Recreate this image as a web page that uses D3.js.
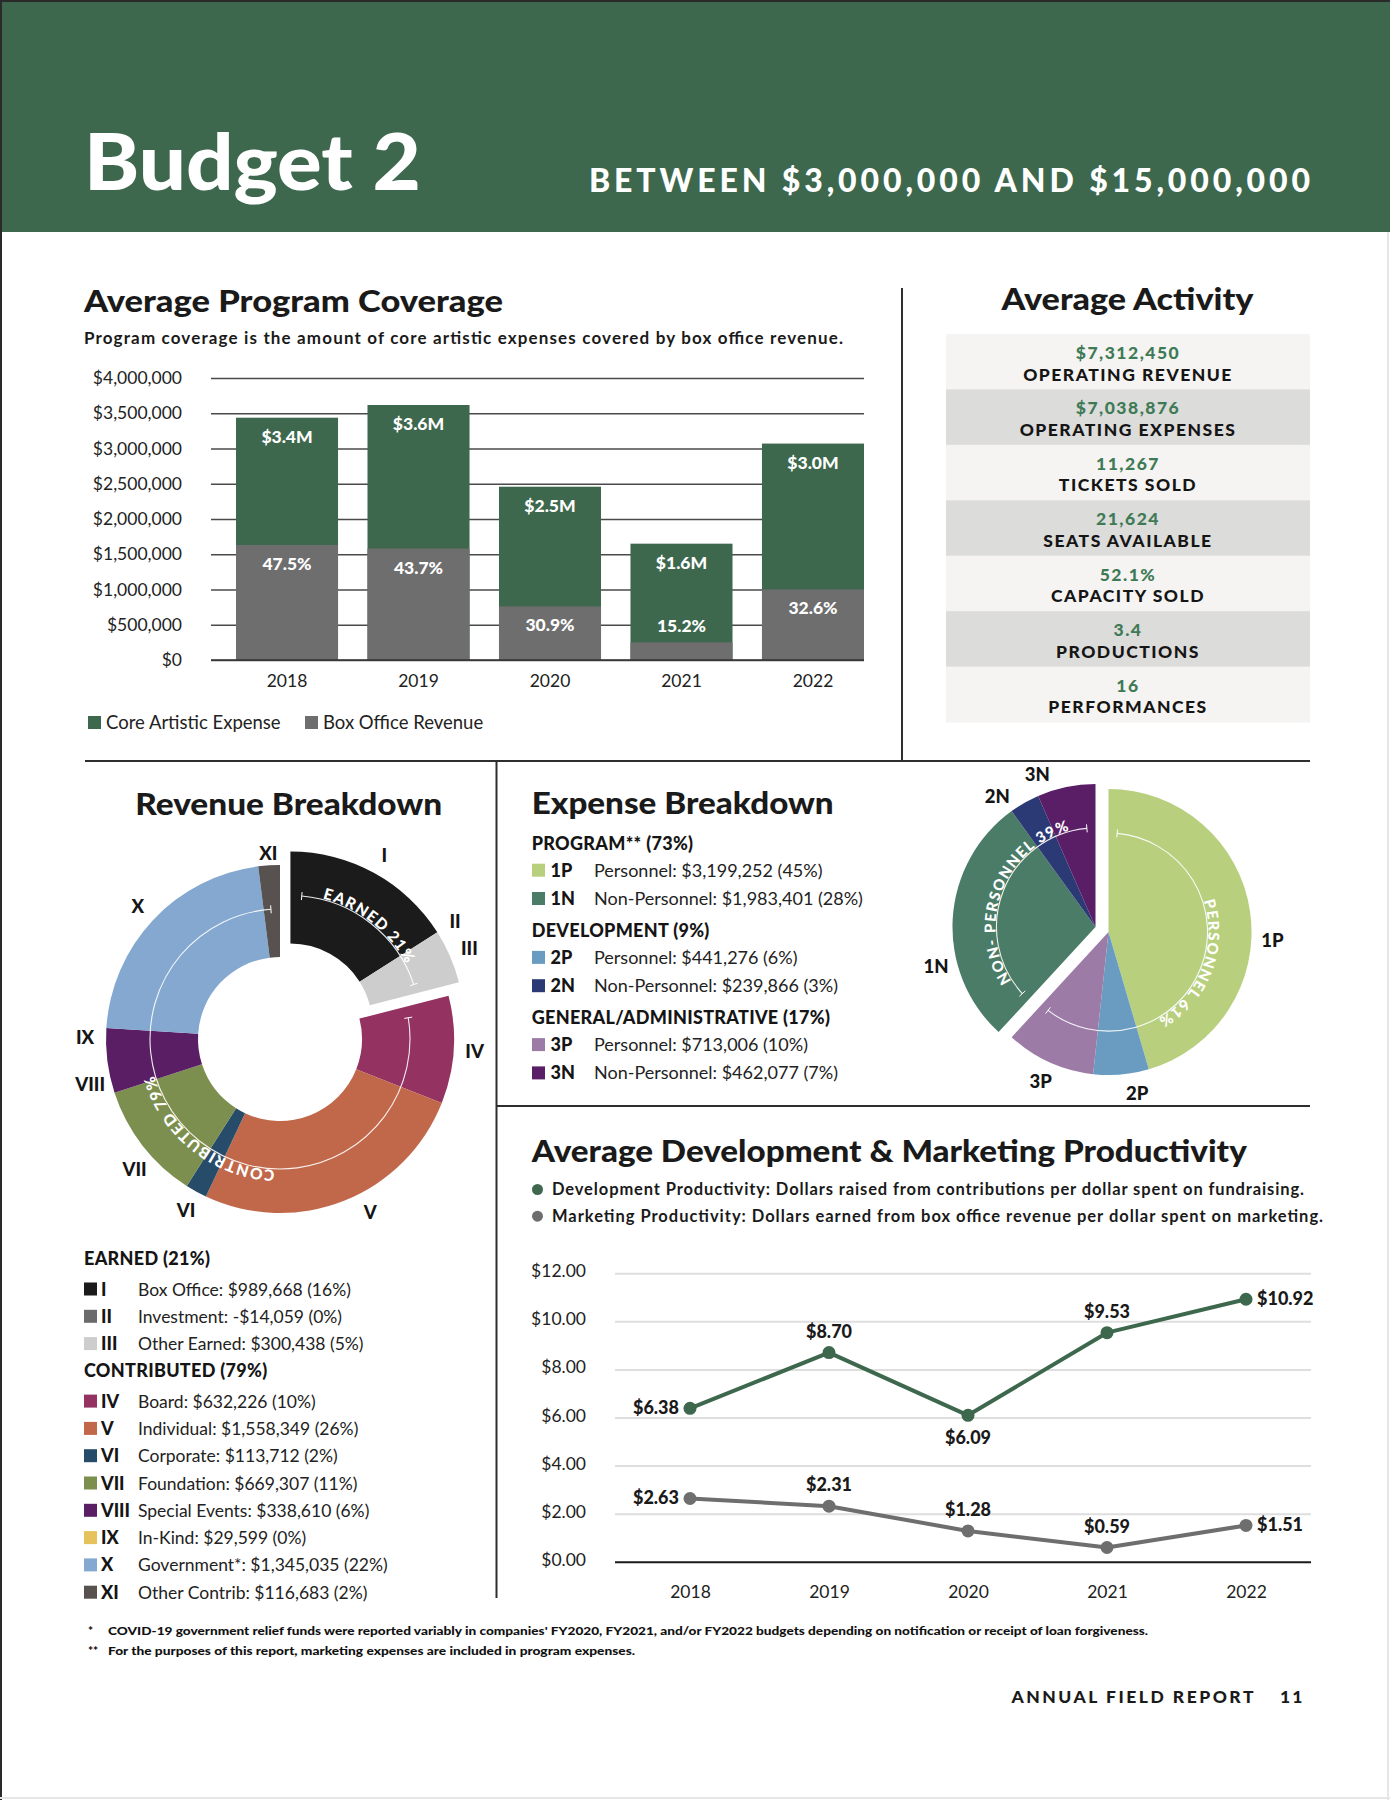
<!DOCTYPE html>
<html>
<head>
<meta charset="utf-8">
<script src="https://cdn.jsdelivr.net/npm/d3@7"></script>
<style>
  body { margin: 0; background: #fff; }
  svg text { font-family: Lato, "Open Sans", sans-serif; }
</style>
</head>
<body>
<svg id="page" width="1390" height="1800"></svg>
<script>
// ---- data ----
const years = ["2018", "2019", "2020", "2021", "2022"];
const coreExpense = [3437000, 3617000, 2458000, 1650000, 3070000];
const boxOffice = [1632000, 1581000, 760000, 251000, 1001000];
const expenseLabels = ["$3.4M", "$3.6M", "$2.5M", "$1.6M", "$3.0M"];
const coverageLabels = ["47.5%", "43.7%", "30.9%", "15.2%", "32.6%"];
const coverageTicks = [0, 500000, 1000000, 1500000, 2000000, 2500000, 3000000, 3500000, 4000000];

const activityValues = ["$7,312,450", "$7,038,876", "11,267", "21,624", "52.1%", "3.4", "16"];
const activityLabels = ["OPERATING REVENUE", "OPERATING EXPENSES", "TICKETS SOLD", "SEATS AVAILABLE",
  "CAPACITY SOLD", "PRODUCTIONS", "PERFORMANCES"];

const revenueCodes = ["I", "II", "III", "IV", "V", "VI", "VII", "VIII", "IX", "X", "XI"];
const revenueNames = ["Box Office", "Investment", "Other Earned", "Board", "Individual", "Corporate",
  "Foundation", "Special Events", "In-Kind", "Government*", "Other Contrib"];
const revenueAmounts = ["$989,668", "-$14,059", "$300,438", "$632,226", "$1,558,349", "$113,712",
  "$669,307", "$338,610", "$29,599", "$1,345,035", "$116,683"];
const revenuePct = [16, 0, 5, 10, 26, 2, 11, 6, 0, 22, 2];
const revenueGroupOf = [0, 0, 0, 1, 1, 1, 1, 1, 1, 1, 1];
const revenueGroups = ["EARNED", "CONTRIBUTED"];
const revenueGroupPct = [21, 79];
const revenueColors = ["#1b1b1b", "#6b6b6b", "#cdcdcd", "#943262", "#c1684a", "#274c6a",
  "#7d8f4f", "#5a1e64", "#e6c25c", "#84a8d0", "#57524f"];

const expenseCodes = ["1P", "1N", "2P", "2N", "3P", "3N"];
const expenseKinds = ["Personnel", "Non-Personnel", "Personnel", "Non-Personnel", "Personnel", "Non-Personnel"];
const expenseValues = [3199252, 1983401, 441276, 239866, 713006, 462077];
const expensePct = [45, 28, 6, 3, 10, 7];
const expenseCategories = ["PROGRAM** (73%)", "DEVELOPMENT (9%)", "GENERAL/ADMINISTRATIVE (17%)"];
const expenseGroups = ["PERSONNEL", "NON- PERSONNEL"];
const expenseGroupPct = [61, 39];
const expenseColors = ["#b8cf7e", "#4a7c67", "#6a9cc2", "#2b3a74", "#9d7ba7", "#5a1e67"];

const devProductivity = [6.38, 8.70, 6.09, 9.53, 10.92];
const mktProductivity = [2.63, 2.31, 1.28, 0.59, 1.51];
const productivityTicks = [0, 2, 4, 6, 8, 10, 12];

const GREEN = "#3e684d";
const svg = d3.select("#page");
const fmt = d3.format(",");

// ---- page frame + header ----
svg.append("rect").attr("x", 0).attr("y", 0).attr("width", 1390).attr("height", 1800).attr("fill", "#fff");
svg.append("rect").attr("x", 0).attr("y", 0).attr("width", 1390).attr("height", 232).attr("fill", GREEN);
svg.append("rect").attr("x", 0).attr("y", 0).attr("width", 1390).attr("height", 2).attr("fill", "#2a2a2a");
svg.append("rect").attr("x", 0).attr("y", 0).attr("width", 2).attr("height", 1800).attr("fill", "#2a2a2a");
svg.append("rect").attr("x", 1387).attr("y", 232).attr("width", 2).attr("height", 1568).attr("fill", "#e6e6e6");
svg.append("rect").attr("x", 0).attr("y", 1797).attr("width", 1390).attr("height", 2).attr("fill", "#e6e6e6");

svg.append("text").attr("x", 84).attr("y", 190).attr("fill", "#fff")
  .attr("font-size", 78).attr("font-weight", 900).attr("textLength", 337).attr("lengthAdjust", "spacingAndGlyphs")
  .text("Budget 2");
svg.append("text").attr("x", 589).attr("y", 192).attr("fill", "#fff")
  .attr("font-size", 32).attr("font-weight", 900).attr("letter-spacing", 2).attr("textLength", 723)
  .text("BETWEEN $3,000,000 AND $15,000,000");

function title(x, y, txt, len, anchor) {
  return svg.append("text").attr("x", x).attr("y", y).attr("fill", "#1a1a1a")
    .attr("font-size", 31).attr("font-weight", 900).attr("text-anchor", anchor || "start")
    .attr("textLength", len).attr("lengthAdjust", "spacingAndGlyphs").text(txt);
}

// ---- dividers ----
const lines = [[902, 288, 902, 760], [85, 761, 1310, 761], [496.5, 761, 496.5, 1598], [496, 1106, 1310, 1106]];
lines.forEach(l => svg.append("line").attr("x1", l[0]).attr("y1", l[1]).attr("x2", l[2]).attr("y2", l[3])
  .attr("stroke", "#2e2e2e").attr("stroke-width", 2));

// ---- Average Program Coverage ----
title(84, 312, "Average Program Coverage", 419);
svg.append("text").attr("x", 84).attr("y", 344).attr("font-size", 17).attr("font-weight", 700)
  .attr("fill", "#1a1a1a").attr("textLength", 759)
  .text("Program coverage is the amount of core artistic expenses covered by box office revenue.");

const barY = d3.scaleLinear().domain([0, 4000000]).range([660, 378]);
const barX = d3.scaleBand().domain(years).range([236, 864]).paddingInner(0.224).paddingOuter(0);

const yAxisBar = svg.append("g").attr("transform", "translate(211,0)")
  .call(d3.axisLeft(barY).tickValues(coverageTicks).tickFormat(d => "$" + fmt(d))
    .tickSize(-(864 - 211)).tickPadding(29));
yAxisBar.select(".domain").remove();
yAxisBar.selectAll(".tick line").attr("stroke", "#4a4a4a").attr("stroke-width", 1.6);
yAxisBar.selectAll(".tick text").attr("font-size", 17.5).attr("fill", "#222").style("font-family", "Lato");

svg.append("g").selectAll("rect").data(years).join("rect")
  .attr("x", d => barX(d)).attr("width", barX.bandwidth())
  .attr("y", (d, i) => barY(coreExpense[i])).attr("height", (d, i) => barY(0) - barY(coreExpense[i]))
  .attr("fill", GREEN);
svg.append("g").selectAll("rect").data(years).join("rect")
  .attr("x", d => barX(d)).attr("width", barX.bandwidth())
  .attr("y", (d, i) => barY(boxOffice[i])).attr("height", (d, i) => barY(0) - barY(boxOffice[i]))
  .attr("fill", "#6e6e6e");

svg.append("g").selectAll("text").data(years).join("text")
  .attr("x", d => barX(d) + barX.bandwidth() / 2).attr("y", (d, i) => barY(coreExpense[i]) + 25)
  .attr("text-anchor", "middle").attr("fill", "#fff").attr("font-size", 17.5).attr("font-weight", 900)
  .text((d, i) => expenseLabels[i]);
svg.append("g").selectAll("text").data(years).join("text")
  .attr("x", d => barX(d) + barX.bandwidth() / 2)
  .attr("y", (d, i) => Math.min(barY(boxOffice[i]) + 25, barY(0) - 28))
  .attr("text-anchor", "middle").attr("fill", "#fff").attr("font-size", 17.5).attr("font-weight", 900)
  .text((d, i) => coverageLabels[i]);

const xAxisBar = svg.append("g").attr("transform", "translate(0,660)")
  .call(d3.axisBottom(barX).tickSize(0).tickPadding(15));
xAxisBar.select(".domain").attr("stroke", "#333").attr("stroke-width", 1.6)
  .attr("d", "M211,0H864");
xAxisBar.selectAll(".tick text").attr("font-size", 17.5).attr("fill", "#222").style("font-family", "Lato");

const barLegend = [["Core Artistic Expense", GREEN, 88], ["Box Office Revenue", "#6e6e6e", 305]];
barLegend.forEach(l => {
  svg.append("rect").attr("x", l[2]).attr("y", 716).attr("width", 13).attr("height", 13).attr("fill", l[1]);
  svg.append("text").attr("x", l[2] + 18).attr("y", 729).attr("font-size", 18.5).attr("fill", "#222").text(l[0]);
});

// ---- Average Activity ----
title(1127.5, 310, "Average Activity", 252, "middle");
const rowH = (722 - 334) / activityValues.length;
const act = svg.append("g").selectAll("g").data(activityValues).join("g")
  .attr("transform", (d, i) => `translate(946,${334 + i * rowH})`);
act.append("rect").attr("width", 364).attr("height", rowH + 0.5)
  .attr("fill", (d, i) => i % 2 ? "#dcdcdb" : "#f5f4f2");
act.append("text").attr("x", 182).attr("y", 25).attr("text-anchor", "middle")
  .attr("font-size", 17.5).attr("font-weight", 900).attr("letter-spacing", 1.5).attr("fill", "#3f7a56")
  .text(d => d);
act.append("text").attr("x", 182).attr("y", 46.5).attr("text-anchor", "middle")
  .attr("font-size", 17.5).attr("font-weight", 900).attr("letter-spacing", 1.5).attr("fill", "#151515")
  .text((d, i) => activityLabels[i]);

// ---- helpers for ring labels ----
const rad = deg => deg * Math.PI / 180;
function ringPath(r, a0, a1) {
  const p0 = [r * Math.sin(a0), -r * Math.cos(a0)], p1 = [r * Math.sin(a1), -r * Math.cos(a1)];
  return `M${p0}A${r},${r} 0 ${(a1 - a0) > Math.PI ? 1 : 0} 1 ${p1}`;
}
function drawRing(g, id, r, a0, a1, label, fs) {
  g.append("path").attr("id", id).attr("d", ringPath(r, a0, a1))
    .attr("fill", "none").attr("stroke", "#fff").attr("stroke-width", 1.1).attr("opacity", 0.9);
  [a0, a1].forEach(a => g.append("line")
    .attr("x1", (r - 4) * Math.sin(a)).attr("y1", -(r - 4) * Math.cos(a))
    .attr("x2", (r + 4) * Math.sin(a)).attr("y2", -(r + 4) * Math.cos(a))
    .attr("stroke", "#fff").attr("stroke-width", 1));
  g.append("text").attr("dy", -1).attr("font-size", fs).attr("font-weight", 900)
    .attr("letter-spacing", 1.2).attr("fill", "#fff")
    .append("textPath").attr("href", "#" + id).attr("startOffset", "50%").attr("text-anchor", "middle")
    .text(label);
}

// ---- Revenue Breakdown ----
title(288.7, 815, "Revenue Breakdown", 307, "middle");
const revC = [280, 1039];
const revPie = d3.pie().sort(null).value(d => d)(revenuePct);
const revArc = d3.arc().innerRadius(82).outerRadius(174);
const revLabelShift = { V: -6, VII: -4, VIII: -6, IX: -3 };

revenueGroups.forEach((gname, gi) => {
  const arcs = revPie.filter((a, i) => revenueGroupOf[i] === gi);
  const a0 = arcs[0].startAngle, a1 = arcs[arcs.length - 1].endAngle, mid = (a0 + a1) / 2;
  const off = gi === 0 ? 17 : 0;
  const g = svg.append("g")
    .attr("transform", `translate(${revC[0] + off * Math.sin(mid)},${revC[1] - off * Math.cos(mid)})`);
  g.selectAll("path.slice").data(arcs).join("path").attr("class", "slice")
    .attr("d", revArc).attr("fill", d => revenueColors[d.index]);
  drawRing(g, "revring" + gi, 130, a0 + rad(5), a1 - rad(4), gname + " " + revenueGroupPct[gi] + "%", 15.5);
  g.selectAll("text.lbl").data(arcs).join("text").attr("class", "lbl")
    .each(function (d) {
      const code = revenueCodes[d.index];
      const a = (d.startAngle + d.endAngle) / 2 + rad(revLabelShift[code] || 0);
      const r = code === "XI" ? 186 : 195;
      d3.select(this).attr("x", r * Math.sin(a)).attr("y", -r * Math.cos(a));
    })
    .attr("text-anchor", "middle").attr("dominant-baseline", "central")
    .attr("font-size", 18.5).attr("font-weight", 900).attr("fill", "#151515")
    .text(d => revenueCodes[d.index]);
});

// revenue legend
let ly = 1265;
revenueGroups.forEach((gname, gi) => {
  svg.append("text").attr("x", 84).attr("y", ly).attr("font-size", 18).attr("font-weight", 900)
    .attr("letter-spacing", 0.3).attr("fill", "#151515").text(`${gname} (${revenueGroupPct[gi]}%)`);
  ly += 30.5;
  revenueCodes.forEach((c, i) => {
    if (revenueGroupOf[i] !== gi) return;
    svg.append("rect").attr("x", 84).attr("y", ly - 13).attr("width", 13).attr("height", 13)
      .attr("fill", revenueColors[i]);
    svg.append("text").attr("x", 101).attr("y", ly).attr("font-size", 18).attr("font-weight", 900)
      .attr("fill", "#151515").text(c);
    svg.append("text").attr("x", 138).attr("y", ly).attr("font-size", 17.5).attr("fill", "#222")
      .text(`${revenueNames[i]}: ${revenueAmounts[i]} (${revenuePct[i]}%)`);
    ly += 27.3;
  });
  ly -= 0.3;
});

// ---- Expense Breakdown ----
title(531.7, 814, "Expense Breakdown", 302);
expenseCategories.forEach((cat, ci) => {
  const hy = 850 + ci * 87.2;
  svg.append("text").attr("x", 531.7).attr("y", hy).attr("font-size", 18).attr("font-weight", 900)
    .attr("letter-spacing", 0.3).attr("fill", "#151515").text(cat);
  [0, 1].forEach(k => {
    const i = ci * 2 + k, yy = hy + 26.7 + k * 28.3;
    svg.append("rect").attr("x", 532).attr("y", yy - 13).attr("width", 13).attr("height", 13)
      .attr("fill", expenseColors[i]);
    svg.append("text").attr("x", 550.5).attr("y", yy).attr("font-size", 18).attr("font-weight", 900)
      .attr("fill", "#151515").text(expenseCodes[i]);
    svg.append("text").attr("x", 594).attr("y", yy).attr("font-size", 18).attr("fill", "#222")
      .text(`${expenseKinds[i]}: $${fmt(expenseValues[i])} (${expensePct[i]}%)`);
  });
});

// pie: personnel slices first, then non-personnel
const expOrder = [0, 2, 4, 1, 3, 5];
const expC = [1102, 929.5];
const expPie = d3.pie().sort(null).value(i => expenseValues[i])(expOrder);
const expArc = d3.arc().innerRadius(0).outerRadius(143);
const expLabelShift = { "1P": 11, "2P": -5, "1N": -17, "2N": -7, "3N": -9 };
expenseGroups.forEach((gname, gi) => {
  const arcs = expPie.slice(gi * 3, gi * 3 + 3);
  const a0 = arcs[0].startAngle, a1 = arcs[2].endAngle, mid = (a0 + a1) / 2;
  const off = 7;
  const g = svg.append("g")
    .attr("transform", `translate(${expC[0] + off * Math.sin(mid)},${expC[1] - off * Math.cos(mid)})`);
  g.selectAll("path").data(arcs).join("path").attr("d", expArc)
    .attr("fill", d => expenseColors[d.data]);
  drawRing(g, "expring" + gi, 99, a0 + rad(5), a1 - rad(5), gname + " " + expenseGroupPct[gi] + "%", 15);
  g.selectAll("text.lbl").data(arcs).join("text").attr("class", "lbl")
    .each(function (d) {
      const code = expenseCodes[d.data];
      const a = (d.startAngle + d.endAngle) / 2 + rad(expLabelShift[code] || 0);
      d3.select(this).attr("x", 164 * Math.sin(a)).attr("y", -164 * Math.cos(a));
    })
    .attr("text-anchor", "middle").attr("dominant-baseline", "central")
    .attr("font-size", 18.5).attr("font-weight", 900).attr("fill", "#151515")
    .text(d => expenseCodes[d.data]);
});

// ---- Average Development & Marketing Productivity ----
title(531.8, 1161.7, "Average Development & Marketing Productivity", 715);
const prodLegend = [
  [GREEN, "Development Productivity: Dollars raised from contributions per dollar spent on fundraising.", 752],
  ["#6e6e6e", "Marketing Productivity: Dollars earned from box office revenue per dollar spent on marketing.", 771]];
prodLegend.forEach((l, i) => {
  const yy = 1195 + i * 26.7;
  svg.append("circle").attr("cx", 537.5).attr("cy", yy - 5.5).attr("r", 5.5).attr("fill", l[0]);
  svg.append("text").attr("x", 552).attr("y", yy).attr("font-size", 16.5).attr("font-weight", 700)
    .attr("fill", "#1a1a1a").attr("textLength", l[2]).text(l[1]);
});

const pY = d3.scaleLinear().domain([0, 12]).range([1561.7, 1273.3]);
const pX = d3.scalePoint().domain(years).range([690, 1246]);
const pyAxis = svg.append("g").attr("transform", "translate(615,0)")
  .call(d3.axisLeft(pY).tickValues(productivityTicks).tickFormat(d3.format("$.2f"))
    .tickSize(-(1311 - 615)).tickPadding(29));
pyAxis.select(".domain").remove();
pyAxis.selectAll(".tick line").attr("stroke", "#dedede").attr("stroke-width", 2);
pyAxis.selectAll(".tick text").attr("font-size", 17.5).attr("fill", "#222").attr("dy", "0.2em")
  .style("font-family", "Lato");
pyAxis.selectAll(".tick").filter(d => d === 0).select("line").attr("stroke", "#1a1a1a");

const pxAxis = svg.append("g").attr("transform", "translate(0,1561.7)")
  .call(d3.axisBottom(pX).tickSize(0).tickPadding(24));
pxAxis.select(".domain").remove();
pxAxis.selectAll(".tick text").attr("font-size", 17.5).attr("fill", "#222").style("font-family", "Lato");

const seriesList = [
  [devProductivity, GREEN, ["left", "above", "below", "above", "right"]],
  [mktProductivity, "#6e6e6e", ["left", "above", "above", "above", "right"]]];
const line = d3.line().x((d, i) => pX(years[i])).y(d => pY(d));
seriesList.forEach(s => {
  const [vals, col, place] = s;
  svg.append("path").datum(vals).attr("d", line).attr("fill", "none")
    .attr("stroke", col).attr("stroke-width", 4).attr("stroke-linejoin", "round");
  svg.append("g").selectAll("circle").data(vals).join("circle")
    .attr("cx", (d, i) => pX(years[i])).attr("cy", d => pY(d)).attr("r", 6.5).attr("fill", col);
  svg.append("g").selectAll("text").data(vals).join("text")
    .attr("x", (d, i) => pX(years[i]) + (place[i] === "left" ? -11 : place[i] === "right" ? 11 : 0))
    .attr("y", (d, i) => pY(d) + (place[i] === "above" ? -15 : place[i] === "below" ? 29 : 6))
    .attr("text-anchor", (d, i) => place[i] === "left" ? "end" : place[i] === "right" ? "start" : "middle")
    .attr("font-size", 18).attr("font-weight", 900).attr("fill", "#1a1a1a")
    .text(d => "$" + d.toFixed(2));
});

// ---- footnotes ----
const notes = [
  ["*", "COVID-19 government relief funds were reported variably in companies' FY2020, FY2021, and/or FY2022 budgets depending on notification or receipt of loan forgiveness.", 1040],
  ["**", "For the purposes of this report, marketing expenses are included in program expenses.", 527]];
notes.forEach((n, i) => {
  const yy = 1635 + i * 20;
  svg.append("text").attr("x", 88).attr("y", yy).attr("font-size", 12).attr("font-weight", 900)
    .attr("fill", "#111").text(n[0]);
  svg.append("text").attr("x", 108).attr("y", yy).attr("font-size", 11).attr("font-weight", 900)
    .attr("fill", "#111").attr("textLength", n[2]).attr("lengthAdjust", "spacingAndGlyphs").text(n[1]);
});
svg.append("text").attr("x", 1011.5).attr("y", 1703).attr("font-size", 17.5).attr("font-weight", 900)
  .attr("letter-spacing", 2).attr("fill", "#1a1a1a").attr("textLength", 244).text("ANNUAL FIELD REPORT");
svg.append("text").attr("x", 1280).attr("y", 1703).attr("font-size", 17.5).attr("font-weight", 900)
  .attr("letter-spacing", 2).attr("fill", "#1a1a1a").text("11");
</script>
</body>
</html>
